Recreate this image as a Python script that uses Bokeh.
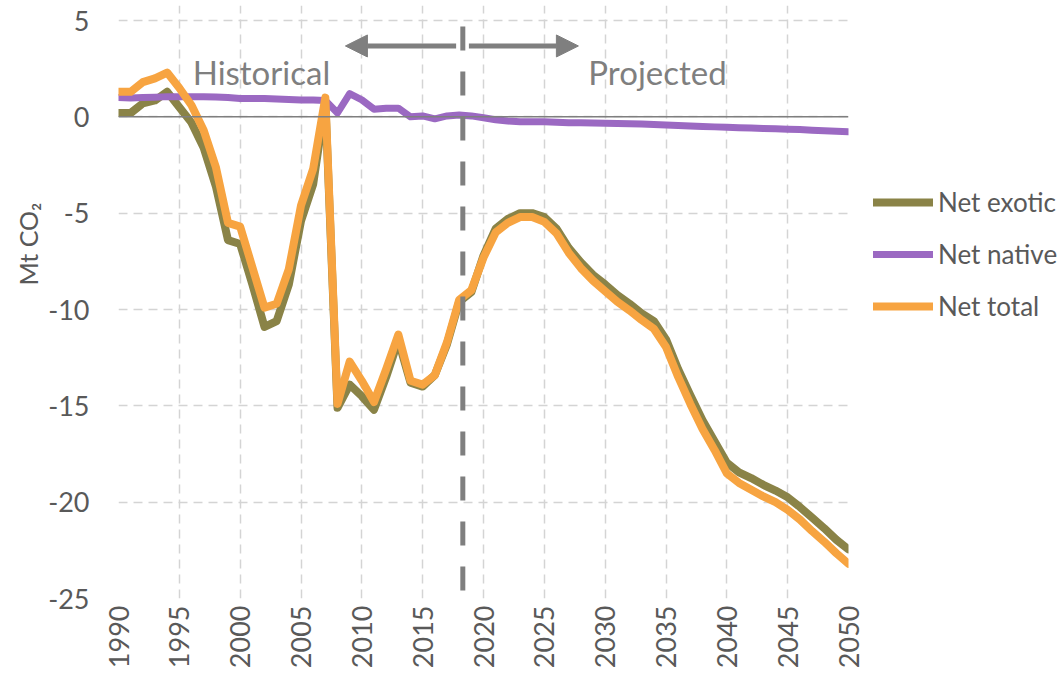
import math
from bokeh.plotting import figure
from bokeh.models import (Range1d, FixedTicker, Span, Label, Legend, LegendItem,
                          Arrow, NormalHead, ColumnDataSource, Title)
from bokeh.embed import file_html
from bokeh.resources import INLINE

# ---------------- data ----------------
years = list(range(1990, 2051))

net_exotic = [
    0.2, 0.2, 0.7, 0.85, 1.3, 0.5, -0.3, -1.6, -3.6, -6.4,
    -6.6, -8.7, -10.9, -10.6, -8.7, -5.4, -3.5, 0.8, -15.1, -13.9,
    -14.5, -15.2, -13.5, -11.6, -13.8, -14.0, -13.4, -11.8, -9.6, -9.1,
    -7.2, -5.8, -5.3, -5.0, -5.0, -5.2, -5.8, -6.8, -7.55, -8.2,
    -8.7, -9.25, -9.7, -10.2, -10.6, -11.55, -13.1, -14.45, -15.75, -16.85,
    -17.95, -18.45, -18.75, -19.1, -19.4, -19.75, -20.25, -20.8, -21.35, -21.95,
    -22.45,
]

net_native = [
    1.0, 0.98, 1.0, 1.02, 1.05, 1.05, 1.05, 1.05, 1.03, 1.0,
    0.95, 0.95, 0.95, 0.93, 0.9, 0.88, 0.88, 0.85, 0.2, 1.2,
    0.88, 0.4, 0.45, 0.45, 0.0, 0.05, -0.1, 0.05, 0.1, 0.05,
    -0.05, -0.15, -0.22, -0.25, -0.25, -0.26, -0.28, -0.3, -0.3, -0.32,
    -0.33, -0.35, -0.36, -0.37, -0.4, -0.42, -0.45, -0.48, -0.5, -0.52,
    -0.54, -0.56, -0.58, -0.6, -0.62, -0.64, -0.66, -0.69, -0.72, -0.75,
    -0.77,
]

net_total = [
    1.3, 1.3, 1.8, 2.0, 2.3, 1.5, 0.6, -0.7, -2.6, -5.5,
    -5.7, -7.8, -9.9, -9.7, -7.9, -4.6, -2.7, 1.0, -14.9, -12.7,
    -13.7, -14.8, -13.1, -11.3, -13.7, -13.9, -13.4, -11.7, -9.5, -9.0,
    -7.3, -6.0, -5.5, -5.2, -5.2, -5.45, -6.05, -7.05, -7.85, -8.5,
    -9.05, -9.6, -10.05, -10.55, -11.0, -11.95, -13.5, -14.9, -16.2, -17.3,
    -18.5, -19.0, -19.35, -19.7, -20.0, -20.4, -20.9, -21.5, -22.05, -22.65,
    -23.2,
]

series_names = ["Net exotic", "Net native", "Net total"]
x_ticks = list(range(1990, 2051, 5))
y_ticks = list(range(-25, 6, 5))
boundary_year = 2018.3
period_labels = ["Historical", "Projected"]
y_title = "Mt CO\u2082"

# ---------------- style ----------------
FONT = "Lato"
TXT = "#595959"
GRAY = "#7f7f7f"
GRID = "#d4d4d4"
COLORS = ["#8a8347", "#9b69c2", "#f7a441"]

src = ColumnDataSource(dict(year=years, exotic=net_exotic,
                            native=net_native, total=net_total))

p = figure(frame_width=730, frame_height=593,
           x_range=Range1d(1990, 2050), y_range=Range1d(-25, 5.78),
           output_backend="svg", toolbar_location=None,
           min_border_left=118, min_border_right=214,
           min_border_top=5, min_border_bottom=80)
p.outline_line_color = None
p.background_fill_color = "white"
p.border_fill_color = "white"

# axes
p.xaxis.ticker = FixedTicker(ticks=x_ticks)
p.yaxis.ticker = FixedTicker(ticks=y_ticks)
p.yaxis.major_label_overrides = {t: str(t) for t in y_ticks}
for ax in (p.xaxis[0], p.yaxis[0]):
    ax.axis_line_color = None
    ax.major_tick_line_color = None
    ax.minor_tick_line_color = None
    ax.major_tick_out = 0
    ax.major_label_text_font = FONT
    ax.major_label_text_font_size = "27px"
    ax.major_label_text_color = TXT
p.xaxis.major_label_orientation = math.pi / 2
p.xaxis.major_label_standoff = 7
p.yaxis.major_label_standoff = 29

# y-axis title (left panel, placed above the frame centre like the original)
p.add_layout(Title(text=y_title, align="left", offset=313, standoff=6,
                   text_font=FONT, text_font_size="25px",
                   text_font_style="normal", text_color=TXT), "left")

# grids
p.xgrid.ticker = FixedTicker(ticks=x_ticks)
p.ygrid.ticker = FixedTicker(ticks=y_ticks)
for g in (p.xgrid[0], p.ygrid[0]):
    g.grid_line_color = GRID
    g.grid_line_width = 1.5
    g.grid_line_dash = "9 6"

# zero line
p.add_layout(Span(location=0, dimension="width", line_color=GRAY, line_width=1.5))

# boundary dashed line
p.add_layout(Span(location=boundary_year, dimension="height", line_color=GRAY,
                  line_width=5, line_dash="24 21", line_dash_offset=24))

# series
r_ex = p.line("year", "exotic", source=src, color=COLORS[0], line_width=8,
              line_join="round", line_cap="round")
r_na = p.line("year", "native", source=src, color=COLORS[1], line_width=7,
              line_join="round", line_cap="round")
r_to = p.line("year", "total", source=src, color=COLORS[2], line_width=8,
              line_join="round", line_cap="round")

# arrows
arrow_y = 3.68
head_l = NormalHead(size=22, fill_color=GRAY, line_color=GRAY)
head_r = NormalHead(size=22, fill_color=GRAY, line_color=GRAY)
p.add_layout(Arrow(end=head_l, x_start=boundary_year - 0.55, y_start=arrow_y,
                   x_end=boundary_year - 9.65, y_end=arrow_y,
                   line_color=GRAY, line_width=5))
p.add_layout(Arrow(end=head_r, x_start=boundary_year + 0.5, y_start=arrow_y,
                   x_end=boundary_year + 9.5, y_end=arrow_y,
                   line_color=GRAY, line_width=5))

p.add_layout(Label(x=2001.75, y=2.34, text=period_labels[0], text_align="center",
                   text_baseline="alphabetic", text_font=FONT,
                   text_font_size="33px", text_color=GRAY))
p.add_layout(Label(x=2034.3, y=2.34, text=period_labels[1], text_align="center",
                   text_baseline="alphabetic", text_font=FONT,
                   text_font_size="33px", text_color=GRAY))

# legend (right panel)
legend = Legend(items=[LegendItem(label=series_names[0], renderers=[r_ex]),
                       LegendItem(label=series_names[1], renderers=[r_na]),
                       LegendItem(label=series_names[2], renderers=[r_to])],
                location=(25, 276), orientation="vertical",
                padding=0, margin=0, spacing=20,
                label_height=30, glyph_height=30, glyph_width=60,
                label_standoff=5,
                label_text_font=FONT, label_text_font_size="26px",
                label_text_color=TXT, label_text_baseline="middle",
                border_line_color=None, background_fill_alpha=0)
p.add_layout(legend, "right")

open("out.html", "w").write(file_html(p, INLINE))
